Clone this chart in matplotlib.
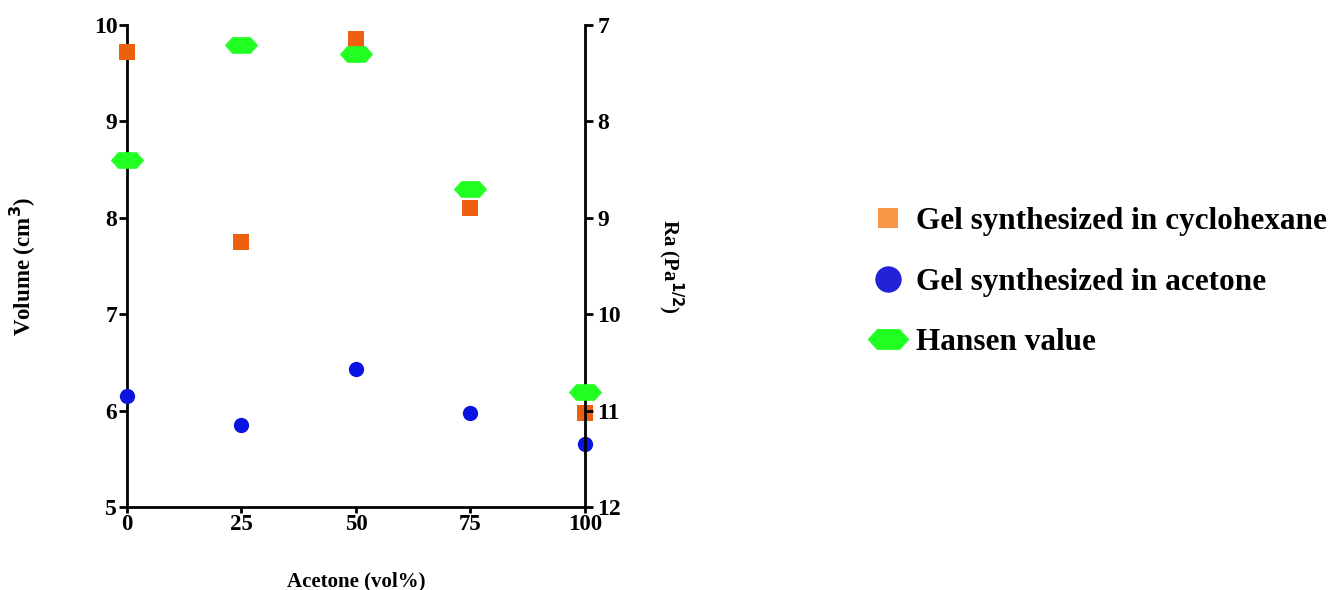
import numpy as np
import matplotlib
matplotlib.use('Agg')
import matplotlib.pyplot as plt
from matplotlib.path import Path
from matplotlib.lines import Line2D

plt.rcParams['font.family'] = ['Liberation Serif', 'DejaVu Serif']
plt.rcParams['font.weight'] = 'bold'

acetone = [0, 25, 50, 75, 100]
vol_cyclohexane = [9.72, 7.75, 9.85, 8.10, 5.97]
vol_acetone = [6.15, 5.85, 6.43, 5.98, 5.65]
ra_hansen = [8.40, 7.21, 7.30, 8.70, 10.81]

x_ticks = [0, 25, 50, 75, 100]
left_ticks = [5, 6, 7, 8, 9, 10]
right_ticks = [7, 8, 9, 10, 11, 12]

labels = ['Gel synthesized in cyclohexane', 'Gel synthesized in acetone', 'Hansen value']

# wide hexagon marker
hexa = Path([(-1, 0), (-0.55, 0.5), (0.55, 0.5), (1, 0), (0.55, -0.5), (-0.55, -0.5), (-1, 0)],
            [Path.MOVETO] + [Path.LINETO] * 5 + [Path.CLOSEPOLY])

fig = plt.figure(figsize=(13.38, 5.9), dpi=100)
ax = fig.add_axes([0.0949, 0.1407, 0.3423, 0.8169])
ax2 = ax.twinx()

ax.plot(acetone, vol_cyclohexane, 's', color='#EE6010', ms=12, mew=0, clip_on=False, zorder=3)
ax.plot(acetone, vol_acetone, 'o', color='#0A14E0', ms=11, mew=0, clip_on=False, zorder=3)
ax2.plot(acetone, ra_hansen, ls='none', marker=hexa, color='#22FF22', ms=24, mew=0, clip_on=False, zorder=3)

ax.set_xlim(0, 100)
ax.set_ylim(5, 10)
ax2.set_ylim(12, 7)
ax.set_xticks(x_ticks)
ax.set_yticks(left_ticks)
ax2.set_yticks(right_ticks)

for a in (ax, ax2):
    a.spines['top'].set_visible(False)
    for s in a.spines.values():
        s.set_linewidth(2)
    a.tick_params(width=2, length=6, labelsize=17, pad=1)
ax.spines['right'].set_visible(False)
ax2.spines['left'].set_visible(False)
ax2.spines['bottom'].set_visible(False)
ax.tick_params(axis='x', length=4, pad=1, labelsize=16.5)
ax2.tick_params(axis='y', pad=3)

ax.set_xlabel('Acetone (vol%)', fontsize=15, fontweight='bold', labelpad=26)
ax.set_ylabel('Volume (cm$^\\mathbf{3}$)', fontsize=16.5, fontweight='bold', labelpad=40)
ax2.set_ylabel('Ra (Pa$^\\mathbf{1/2}$)', fontsize=15, fontweight='bold', rotation=-90, labelpad=46)

handles = [
    Line2D([], [], ls='none', marker='s', color='#F79646', ms=15, mew=0),
    Line2D([], [], ls='none', marker='o', color='#2222D8', ms=19, mew=0),
    Line2D([], [], ls='none', marker=hexa, color='#22FF22', ms=30, mew=0),
]
fig.legend(handles, labels, loc='center left', bbox_to_anchor=(0.647, 0.522), frameon=False,
           labelspacing=1.0, handletextpad=0.2, handlelength=1.4, borderpad=0, borderaxespad=0,
           prop={'family': ['Liberation Serif'], 'weight': 'bold', 'size': 22.5})

fig.savefig('out.png', dpi=100)
